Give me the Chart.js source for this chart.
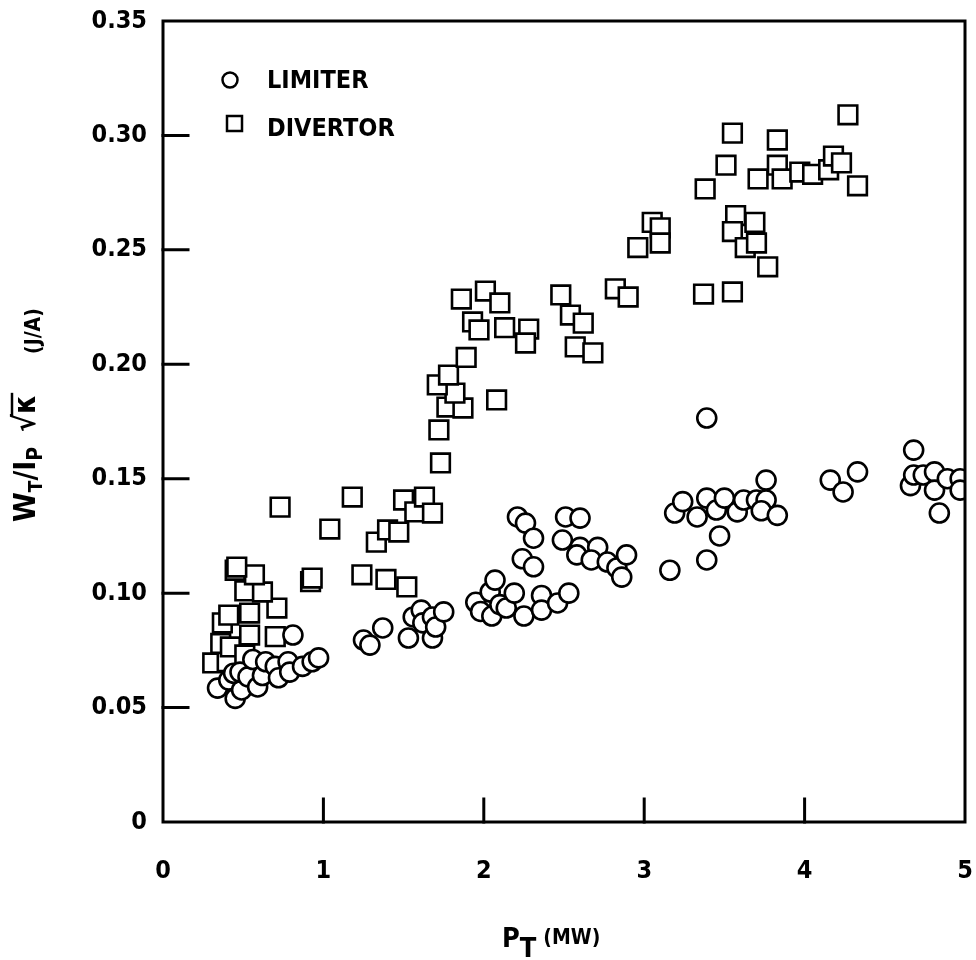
<!DOCTYPE html>
<html>
<head>
<meta charset="utf-8">
<script src="https://cdn.jsdelivr.net/npm/chart.js@4.4.0/dist/chart.umd.min.js"></script>
<style>
  html, body { margin: 0; padding: 0; background: #fff; }
  #wrap { width: 976px; height: 960px; }
</style>
</head>
<body>
<div id="wrap"><canvas id="chart"></canvas></div>
<script>
// valeurs : P_T (MW) et W_T/I_P sqrt(kappa) (J/A)
const limiterX = [0.34, 0.41, 0.45, 0.49, 0.44, 0.48, 0.53, 0.56, 0.59, 0.62, 0.64, 0.70, 0.72, 0.78, 0.79, 0.87, 0.93, 0.97, 0.81,
  1.25, 1.29, 1.37,
  1.53, 1.56, 1.61, 1.62, 1.68, 1.68, 1.70, 1.75,
  1.95, 1.98, 2.04, 2.07, 2.05, 2.10, 2.14, 2.19, 2.21, 2.26, 2.31, 2.24, 2.31, 2.25, 2.36, 2.36, 2.46, 2.53,
  2.51, 2.60, 2.49, 2.60, 2.71, 2.58, 2.67, 2.77, 2.83, 2.86, 2.89,
  3.16, 3.39, 3.47, 3.19, 3.24, 3.33, 3.39, 3.45, 3.50, 3.58, 3.62, 3.70, 3.76, 3.76, 3.73, 3.83, 3.39,
  4.16, 4.24, 4.33, 4.68, 4.66, 4.68, 4.74, 4.81, 4.81, 4.84, 4.89, 4.97, 4.97];
const limiterY = [0.0585, 0.062, 0.054, 0.0577, 0.065, 0.0655, 0.0634, 0.071, 0.059, 0.064, 0.070, 0.068, 0.063, 0.070, 0.0655, 0.068, 0.070, 0.0717, 0.0817,
  0.0795, 0.0773, 0.0848,
  0.0804, 0.0896, 0.0926, 0.087, 0.0896, 0.0804, 0.0852, 0.0918,
  0.096, 0.092, 0.1005, 0.1057, 0.090, 0.095, 0.0935, 0.100, 0.1333, 0.1306, 0.124, 0.115, 0.1115, 0.090, 0.099, 0.0926, 0.0957, 0.100,
  0.1333, 0.1328, 0.1232, 0.120, 0.120, 0.1167, 0.1145, 0.1136, 0.111, 0.107, 0.1167,
  0.110, 0.1145, 0.125, 0.135, 0.140, 0.1333, 0.1415, 0.1363, 0.1415, 0.1355, 0.1407, 0.1407, 0.1494, 0.1407, 0.136, 0.134, 0.1765,
  0.1494, 0.1442, 0.153, 0.1625, 0.147, 0.1516, 0.1516, 0.153, 0.145, 0.135, 0.150, 0.150, 0.145];

const divertorX = [0.31, 0.40, 0.36, 0.42, 0.51, 0.54, 0.70, 0.37, 0.41, 0.54, 0.71, 0.51, 0.62, 0.57, 0.45, 0.46, 0.92, 0.93, 0.73,
  1.04, 1.18, 1.24, 1.39, 1.52, 1.33, 1.40, 1.47, 1.50, 1.57, 1.63, 1.68, 1.73, 1.72, 1.77, 1.87, 1.82, 1.71, 1.78, 1.89, 2.08,
  1.86, 2.01, 2.10, 1.93, 1.97, 2.13, 2.28, 2.26,
  2.48, 2.54, 2.62, 2.57, 2.68, 2.82, 2.90,
  2.96, 3.05, 3.10, 3.10, 3.37, 3.55,
  3.57, 3.69, 3.55, 3.63, 3.70, 3.77,
  3.38, 3.51, 3.55, 3.71, 3.83, 3.83, 3.86, 3.97, 4.05, 4.15, 4.18, 4.23, 4.27, 4.33];
const divertorY = [0.0695, 0.070, 0.078, 0.0765, 0.073, 0.0817, 0.081, 0.087, 0.0904, 0.0913, 0.0935, 0.101, 0.1005, 0.108, 0.110, 0.1114, 0.105, 0.1066, 0.1376,
  0.128, 0.142, 0.108, 0.106, 0.1027, 0.1223, 0.1276, 0.1267, 0.1407, 0.1355, 0.142, 0.135, 0.1569, 0.1713, 0.1813, 0.1809, 0.1874, 0.191, 0.1953, 0.203, 0.1844,
  0.2285, 0.232, 0.2268, 0.2185, 0.215, 0.216, 0.2154, 0.2093,
  0.2303, 0.2215, 0.218, 0.2076, 0.205, 0.233, 0.2294,
  0.251, 0.262, 0.2596, 0.253, 0.2307, 0.2316,
  0.265, 0.262, 0.258, 0.251, 0.253, 0.2426,
  0.2766, 0.287, 0.301, 0.281, 0.298, 0.287, 0.281, 0.284, 0.283, 0.285, 0.291, 0.288, 0.309, 0.278];

const xTicks = [0, 1, 2, 3, 4, 5];
const yTicks = [0, 0.05, 0.10, 0.15, 0.20, 0.25, 0.30, 0.35];
const seriesNames = ['LIMITER', 'DIVERTOR'];

const FONT = "'Liberation Sans Narrow', 'DejaVu Sans Condensed', 'Liberation Sans', sans-serif";

function toPoints(xs, ys) {
  return xs.map((x, i) => ({ x: x, y: ys[i] }));
}

// pas de marge automatique : la zone de tracé est fixée par afterFit + layout.padding
function noPad(s) {
  s.paddingLeft = 0;
  s.paddingRight = 0;
  s.paddingTop = 0;
  s.paddingBottom = 0;
}

// cadre, graduations vers l'intérieur, titres des axes et légende
const framePlugin = {
  id: 'frame',
  afterDatasetsDraw(chart) {
    const { ctx, chartArea: a, scales: { x, y } } = chart;
    ctx.save();
    ctx.strokeStyle = '#000';
    ctx.lineWidth = 3;
    ctx.lineCap = 'square';
    ctx.strokeRect(a.left, a.top, a.right - a.left, a.bottom - a.top);
    ctx.beginPath();
    xTicks.slice(1, -1).forEach(v => {
      const px = x.getPixelForValue(v);
      ctx.moveTo(px, a.bottom);
      ctx.lineTo(px, a.bottom - 23);
    });
    yTicks.slice(1, -1).forEach(v => {
      const py = y.getPixelForValue(v);
      ctx.moveTo(a.left, py);
      ctx.lineTo(a.left + 25, py);
    });
    ctx.stroke();
    ctx.restore();
  },
  afterDraw(chart) {
    const { ctx, chartArea: a } = chart;
    ctx.save();
    ctx.fillStyle = '#000';
    ctx.strokeStyle = '#000';
    ctx.textBaseline = 'alphabetic';
    ctx.textAlign = 'left';

    // légende
    ctx.lineWidth = 2.5;
    ctx.beginPath();
    ctx.arc(a.left + 67, a.top + 59, 7.5, 0, Math.PI * 2);
    ctx.stroke();
    ctx.strokeRect(a.left + 64, a.top + 95, 15, 15);
    ctx.font = 'bold 25px ' + FONT;
    ctx.fillText(seriesNames[0], a.left + 104, a.top + 67);
    ctx.fillText(seriesNames[1], a.left + 104, a.top + 115);

    // titre axe x : P_T (MW)
    let cx = 502, by = 947;
    ctx.font = 'bold 27px ' + FONT;
    ctx.fillText('P', cx, by);
    cx += ctx.measureText('P').width;
    ctx.fillText('T', cx, by + 10);
    cx += ctx.measureText('T').width + 7;
    ctx.font = 'bold 21px ' + FONT;
    ctx.fillText('(MW)', cx, by - 3);

    // titre axe y : W_T/I_P sqrt(kappa) (J/A), écrit de bas en haut
    ctx.translate(35, 522);
    ctx.rotate(-Math.PI / 2);
    const put = (s, at, size, dy) => {
      ctx.font = 'bold ' + size + 'px ' + FONT;
      ctx.fillText(s, at, dy);
      return ctx.measureText(s).width;
    };
    const ww = put('W', 0, 30, 0);
    const tw = put('T', ww, 19, 7);
    const sw = put('/I', ww + tw, 30, 0);
    put('P', ww + tw + sw, 21, 7);
    const rw = put('\u221A', 90, 30, 0);
    const kw = put('\u03BA', 90 + rw, 30, 0);
    ctx.lineWidth = 2.5;
    ctx.beginPath();
    ctx.moveTo(90 + rw - 2, -23);
    ctx.lineTo(90 + rw + kw + 2, -23);
    ctx.stroke();
    put('(J/A)', 168, 21, 5);
    ctx.restore();
  }
};

const ctx = document.getElementById('chart').getContext('2d');
new Chart(ctx, {
  type: 'scatter',
  data: {
    datasets: [
      {
        label: seriesNames[0],
        data: toPoints(limiterX, limiterY),
        pointStyle: 'circle',
        pointRadius: 9.5,
        pointHoverRadius: 9.5,
        borderWidth: 2.6,
        borderColor: '#000',
        backgroundColor: '#fff',
        order: 1,
        clip: 1
      },
      {
        label: seriesNames[1],
        data: toPoints(divertorX, divertorY),
        pointStyle: 'rect',
        pointRadius: 13.2,
        pointHoverRadius: 13.2,
        borderWidth: 2.6,
        borderColor: '#000',
        backgroundColor: '#fff',
        order: 2,
        clip: 1
      }
    ]
  },
  options: {
    responsive: true,
    maintainAspectRatio: false,
    animation: false,
    layout: { autoPadding: false, padding: { top: 21, right: 11, left: 0, bottom: 0 } },
    plugins: {
      legend: { display: false },
      tooltip: { enabled: false }
    },
    scales: {
      x: {
        type: 'linear',
        min: 0,
        max: 5,
        afterBuildTicks: s => { s.ticks = xTicks.map(v => ({ value: v })); },
        afterFit: s => { s.height = 138; noPad(s); },
        grid: { display: false, drawTicks: false },
        border: { display: false },
        ticks: {
          padding: 34,
          color: '#000',
          font: { family: FONT, size: 25, weight: 'bold' },
          callback: v => String(v)
        }
      },
      y: {
        type: 'linear',
        min: 0,
        max: 0.35,
        afterBuildTicks: s => { s.ticks = yTicks.map(v => ({ value: v })); },
        afterFit: s => { s.width = 163; noPad(s); },
        grid: { display: false, drawTicks: false },
        border: { display: false },
        ticks: {
          padding: 16,
          color: '#000',
          font: { family: FONT, size: 25, weight: 'bold' },
          callback: v => (v === 0 ? '0' : v.toFixed(2))
        }
      }
    }
  },
  plugins: [framePlugin]
});
</script>
</body>
</html>
